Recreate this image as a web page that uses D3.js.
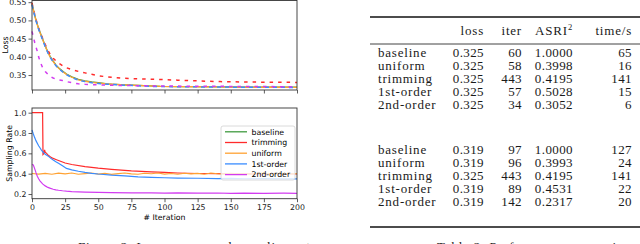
<!DOCTYPE html>
<html>
<head>
<meta charset="utf-8">
<title>loss / sampling rate</title>
<script src="https://d3js.org/d3.v7.min.js"></script>
<style>
  body { margin: 0; background: #fff; }
  svg { display: block; }
  .tick text { font-family: "DejaVu Sans", sans-serif; font-size: 7.8px; fill: #222; }
  .tick line { stroke: #333; stroke-width: 0.8; }
  .tbl { font-family: "Liberation Serif", serif; font-size: 13px; fill: #1a1a1a; letter-spacing: 0.4px; }
  .lbl { letter-spacing: 0.8px; }
</style>
</head>
<body>
<div id="chart"></div>
<script>
// ---- data ----
const methods = ["baseline", "trimming", "uniform", "1st-order", "2nd-order"];
const colors = ["#3f9a3f", "#ff2b2b", "#ffa233", "#3a8cff", "#d23cf0"];

// loss curves (top panel)
const lossIters = [0,1,2,3,4,5,6,8,10,12,14,16,18,20,23,26,30,35,40,45,50,57,60,70,80,89,97,110,125,142,160,180,200];
const lossBaseline = [0.545,0.530,0.515,0.501,0.489,0.478,0.468,0.449,0.430,0.413,0.399,0.388,0.378,0.370,0.361,0.353,0.345,0.338,0.334,0.331,0.329,0.326,0.325,0.323,0.3215,0.3205,0.319,0.3185,0.318,0.3175,0.317,0.3168,0.3165];
const lossTrimming = [0.548,0.532,0.517,0.503,0.490,0.479,0.469,0.451,0.434,0.418,0.405,0.396,0.389,0.383,0.376,0.370,0.365,0.360,0.356,0.352,0.348,0.345,0.344,0.341,0.3395,0.3385,0.338,0.336,0.334,0.332,0.331,0.3303,0.3298];
const lossUniform = [0.544,0.529,0.514,0.500,0.488,0.477,0.467,0.448,0.429,0.412,0.398,0.387,0.377,0.369,0.360,0.352,0.344,0.337,0.333,0.330,0.328,0.3255,0.3248,0.3228,0.3213,0.3203,0.3191,0.3184,0.3179,0.3174,0.3169,0.3166,0.3163];
const loss1st = [0.543,0.528,0.513,0.499,0.487,0.476,0.466,0.447,0.428,0.411,0.397,0.386,0.376,0.368,0.359,0.351,0.343,0.336,0.332,0.329,0.327,0.325,0.3243,0.3223,0.3207,0.319,0.3186,0.3181,0.3176,0.3171,0.3167,0.3164,0.3161];
const loss2nd = [0.470,0.455,0.440,0.427,0.415,0.400,0.388,0.370,0.360,0.352,0.346,0.342,0.339,0.337,0.335,0.332,0.329,0.326,0.3245,0.3236,0.3229,0.3222,0.322,0.3213,0.3207,0.3203,0.320,0.3197,0.3193,0.319,0.3187,0.3183,0.318];

// sampling rate curves (bottom panel)
const rateTrimIters = [0,8,8.3,9,9.5,10,11,12,14,16,18,20,25,30,40,50,60,75,90,100,110,125,140,150,160,175,190,200];
const rateTrimming = [1.0,1.0,0.59,0.60,0.635,0.61,0.60,0.585,0.565,0.55,0.54,0.53,0.505,0.49,0.47,0.455,0.443,0.428,0.418,0.412,0.407,0.402,0.401,0.400,0.398,0.399,0.398,0.399];
const rateUniIters = [0,5,10,15,20,25,30,35,40,45,50,55,60,65,70,75,80,85,90,95,100,105,110,115,120,125,130,135,140,145,150,155,160,165,170,175,180,185,190,195,200];
const rateUniform = [0.402,0.396,0.403,0.394,0.405,0.398,0.407,0.395,0.401,0.406,0.396,0.403,0.393,0.401,0.406,0.398,0.395,0.404,0.400,0.407,0.396,0.402,0.394,0.404,0.398,0.403,0.395,0.406,0.400,0.396,0.404,0.398,0.402,0.394,0.403,0.407,0.397,0.400,0.405,0.397,0.402];
const rate1stIters = [0,1,2,3,4,5,6,7,8,10,12,14,16,18,20,23,26,30,35,40,45,50,60,70,80,90,100,110,125,140,150,160,175,190,200];
const rate1st = [0.83,0.79,0.755,0.725,0.70,0.675,0.655,0.635,0.618,0.59,0.575,0.553,0.535,0.518,0.503,0.478,0.452,0.437,0.424,0.413,0.404,0.397,0.386,0.378,0.368,0.364,0.360,0.357,0.355,0.352,0.353,0.350,0.351,0.348,0.348];
const rate2ndIters = [0,1,2,3,4,5,6,7,8,10,12,14,16,18,20,23,26,30,35,40,50,60,75,90,100,110,125,140,150,160,175,190,200];
const rate2nd = [0.49,0.485,0.45,0.41,0.375,0.35,0.33,0.315,0.30,0.28,0.265,0.255,0.247,0.241,0.237,0.232,0.228,0.224,0.221,0.219,0.216,0.214,0.212,0.211,0.209,0.211,0.209,0.210,0.207,0.209,0.207,0.208,0.206];

const lossTicks = [0.35, 0.40, 0.45, 0.50, 0.55];
const rateTicks = [0.2, 0.4, 0.6, 0.8, 1.0];
const iterTicks = [0, 25, 50, 75, 100, 125, 150, 175, 200];

// table
const tblHeader = ["loss", "iter", "ASRI", "time/s"];
const tblMethods = ["baseline", "uniform", "trimming", "1st-order", "2nd-order"];
const loss1 = ["0.325", "0.325", "0.325", "0.325", "0.325"];
const iter1 = ["60", "58", "443", "57", "34"];
const asri1 = ["1.0000", "0.3998", "0.4195", "0.5028", "0.3052"];
const time1 = ["65", "16", "141", "15", "6"];
const loss2 = ["0.319", "0.319", "0.325", "0.319", "0.319"];
const iter2 = ["97", "96", "443", "89", "142"];
const asri2 = ["1.0000", "0.3993", "0.4195", "0.4531", "0.2317"];
const time2 = ["127", "24", "141", "22", "20"];

// ---- drawing ----
const width = 640, height = 244;
const svg = d3.select("#chart").append("svg")
  .attr("width", width)
  .attr("height", height);

const x = d3.scaleLinear().domain([0, 200]).range([32, 297]);
const yTop = d3.scaleLinear().domain([0.309, 0.5546]).range([90, 0.5]);
const yBot = d3.scaleLinear().domain([0.154, 1.046]).range([198.7, 108]);

function panel(y, ticks, fmt, showX) {
  const g = svg.append("g");
  g.append("g")
    .attr("transform", "translate(" + x.range()[0] + ",0)")
    .call(d3.axisLeft(y).tickValues(ticks).tickFormat(d3.format(fmt)).tickSize(3.5).tickPadding(2))
    .select(".domain").remove();
  const xa = g.append("g")
    .attr("transform", "translate(0," + y.range()[0] + ")")
    .call(d3.axisBottom(x).tickValues(iterTicks).tickSize(3.5).tickPadding(2)
      .tickFormat(showX ? d3.format("d") : ""));
  xa.select(".domain").remove();
  return g;
}

const gTop = panel(yTop, lossTicks, ".2f", false);
const gBot = panel(yBot, rateTicks, ".1f", true);

function draw(g, y, its, vals, color, dash, w) {
  const line = d3.line().x(d => x(d[0])).y(d => y(d[1]));
  g.append("path")
    .attr("d", line(d3.zip(its, vals)))
    .attr("fill", "none")
    .attr("stroke", color)
    .attr("stroke-width", w)
    .attr("stroke-dasharray", dash);
}

// top: loss
draw(gTop, yTop, lossIters, lossBaseline, colors[0], null, 1.3);
draw(gTop, yTop, lossIters, lossTrimming, colors[1], "3.5,5", 1.5);
draw(gTop, yTop, lossIters, lossUniform, colors[2], null, 1.3);
draw(gTop, yTop, lossIters, loss1st, colors[3], "4,4", 1.5);
draw(gTop, yTop, lossIters, loss2nd, colors[4], "3.5,5", 1.5);

// bottom: sampling rate
draw(gBot, yBot, rateTrimIters, rateTrimming, colors[1], null, 1.2);
draw(gBot, yBot, rateUniIters, rateUniform, colors[2], null, 1.1);
draw(gBot, yBot, rate1stIters, rate1st, colors[3], null, 1.2);
draw(gBot, yBot, rate2ndIters, rate2nd, colors[4], null, 1.2);

// frames
[yTop, yBot].forEach(function(y) {
  svg.append("rect")
    .attr("x", x.range()[0]).attr("y", y.range()[1])
    .attr("width", x.range()[1] - x.range()[0])
    .attr("height", y.range()[0] - y.range()[1])
    .attr("fill", "none").attr("stroke", "#333").attr("stroke-width", 0.9);
});

// axis labels
svg.append("text")
  .attr("transform", "translate(8,45) rotate(-90)")
  .attr("text-anchor", "middle")
  .style("font-family", "DejaVu Sans").style("font-size", "7.8px")
  .text("Loss");
svg.append("text")
  .attr("transform", "translate(11.5,153.4) rotate(-90)")
  .attr("text-anchor", "middle")
  .style("font-family", "DejaVu Sans").style("font-size", "7.8px")
  .text("Sampling Rate");
svg.append("text")
  .attr("x", 164.5).attr("y", 219.5)
  .attr("text-anchor", "middle")
  .style("font-family", "DejaVu Sans").style("font-size", "7.8px")
  .text("# Iteration");

// legend
const legend = svg.append("g");
legend.append("rect")
  .attr("x", 221).attr("y", 126).attr("width", 74).attr("height", 54).attr("rx", 2)
  .attr("fill", "#fff").attr("fill-opacity", 0.8)
  .attr("stroke", "#d0d0d0").attr("stroke-width", 0.8);
methods.forEach(function(m, i) {
  const ly = 131.8 + i * 10.7;
  legend.append("line")
    .attr("x1", 225).attr("x2", 247).attr("y1", ly).attr("y2", ly)
    .attr("stroke", colors[i]).attr("stroke-width", 1.3);
  legend.append("text")
    .attr("x", 251.5).attr("y", ly + 2.8)
    .style("font-family", "DejaVu Sans").style("font-size", "7.8px")
    .text(m);
});

// table
const colRight = [484, 522, 573, 632];
svg.append("line").attr("x1", 370).attr("x2", 640).attr("y1", 17).attr("y2", 17)
  .attr("stroke", "#111").attr("stroke-width", 1.3);
svg.append("line").attr("x1", 370).attr("x2", 640).attr("y1", 44).attr("y2", 44)
  .attr("stroke", "#111").attr("stroke-width", 0.8);
svg.append("line").attr("x1", 370).attr("x2", 640).attr("y1", 227).attr("y2", 227)
  .attr("stroke", "#111").attr("stroke-width", 1.3);

tblHeader.forEach(function(h, j) {
  const t = svg.append("text").attr("class", "tbl lbl")
    .attr("x", colRight[j]).attr("y", 35).attr("text-anchor", "end");
  if (h === "ASRI") {
    t.append("tspan").text("ASRI");
    t.append("tspan").attr("dy", -5).style("font-size", "8.5px").text("2");
  } else {
    t.text(h);
  }
});

function block(y0, cols) {
  tblMethods.forEach(function(m, i) {
    const y = y0 + i * 12.9;
    svg.append("text").attr("class", "tbl lbl").attr("x", 378).attr("y", y).text(m);
    cols.forEach(function(c, j) {
      svg.append("text").attr("class", "tbl")
        .attr("x", colRight[j]).attr("y", y).attr("text-anchor", "end").text(c[i]);
    });
  });
}
block(57, [loss1, iter1, asri1, time1]);
block(154, [loss2, iter2, asri2, time2]);

// captions (only their tops show above the bottom edge)
svg.append("text").attr("class", "tbl lbl").attr("x", 78).attr("y", 250.5)
  .text("Figure 2: Loss curves and sampling rates.");
svg.append("text").attr("class", "tbl lbl").attr("x", 437).attr("y", 250.5)
  .text("Table 2: Performance comparison of methods.");
</script>
</body>
</html>
